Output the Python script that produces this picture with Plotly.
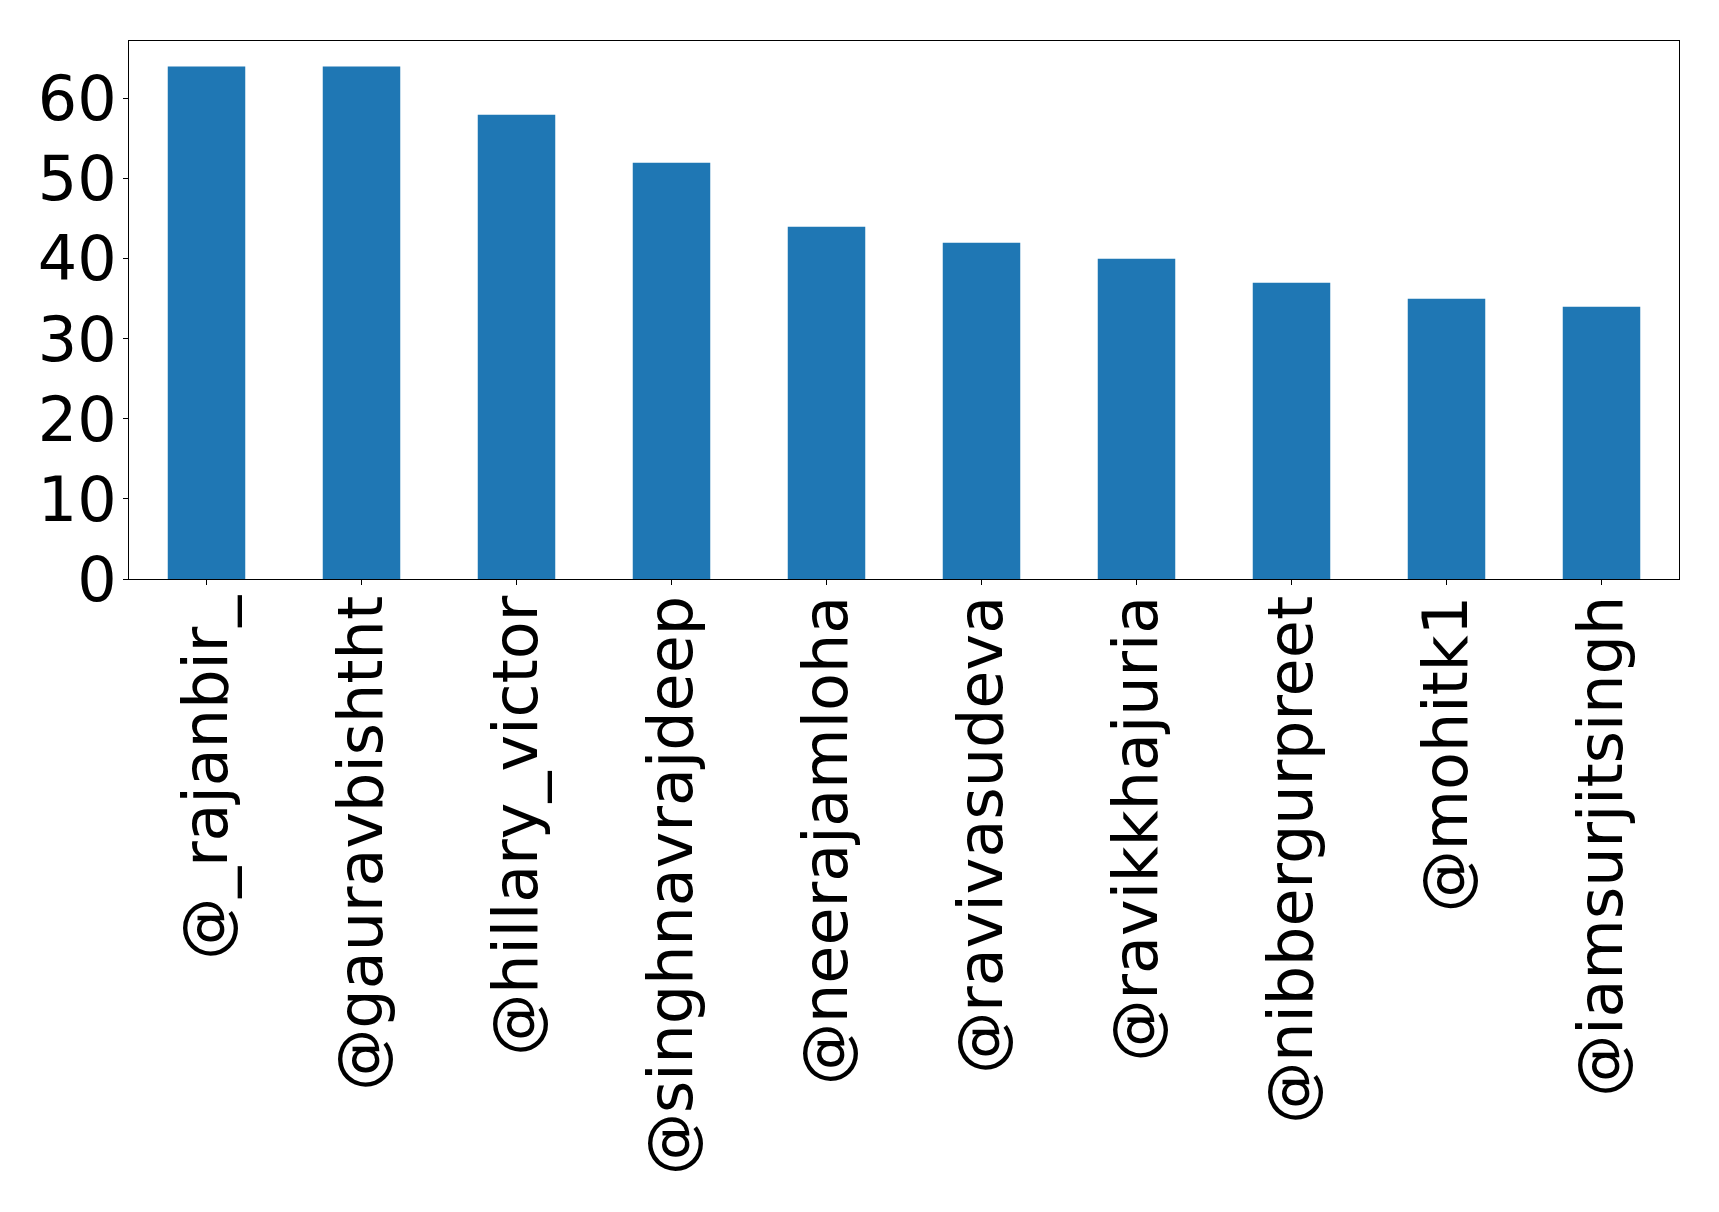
import plotly.graph_objects as go

users = ["@_rajanbir_", "@gauravbishtht", "@hillary_victor", "@singhnavrajdeep",
         "@neerajamloha", "@ravivasudeva", "@ravikkhajuria", "@nibbergurpreet",
         "@mohitk1", "@iamsurjitsingh"]
counts = [64, 64, 58, 52, 44, 42, 40, 37, 35, 34]
y_ticks = [0, 10, 20, 30, 40, 50, 60]

fig = go.Figure(go.Bar(x=users, y=counts, width=0.5,
                       marker=dict(color="#1f77b4", line=dict(width=0))))

font = dict(family="DejaVu Sans", size=62, color="black")
fig.update_layout(
    width=1703, height=1196,
    margin=dict(l=121, r=32, t=33, b=625, autoexpand=False),
    paper_bgcolor="white", plot_bgcolor="white",
    font=font, showlegend=False, bargap=0.5,
)
fig.update_xaxes(
    type="category", range=[-0.5, len(users) - 0.5], tickangle=-90,
    showline=True, linecolor="black", linewidth=1, mirror=True,
    ticks="outside", ticklen=5, tickcolor="black", tickwidth=1,
    showgrid=False, zeroline=False, automargin=False, tickfont=font,
    ticklabelstandoff=-14,
)
fig.update_yaxes(
    range=[0, max(counts) * 1.05], tickvals=y_ticks,
    showline=True, linecolor="black", linewidth=1, mirror=True,
    ticks="outside", ticklen=5, tickcolor="black", tickwidth=1,
    showgrid=False, zeroline=False, automargin=False, tickfont=font,
    ticklabelstandoff=-6,
)
fig.write_html("out.html")
